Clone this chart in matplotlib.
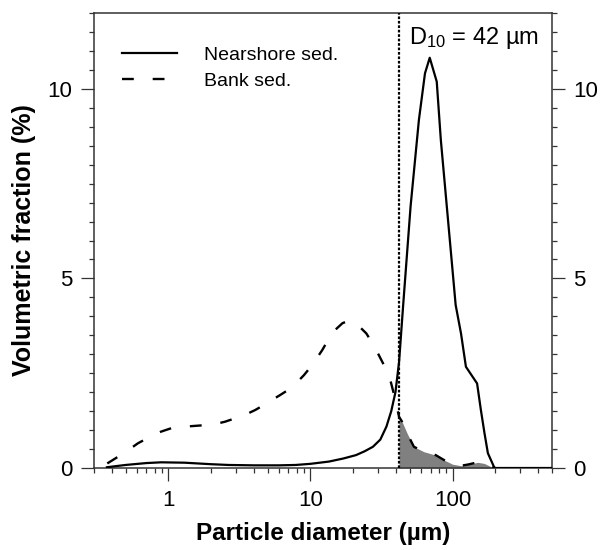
import matplotlib
matplotlib.use("Agg")
import matplotlib.pyplot as plt
import numpy as np

plt.rcParams['font.family'] = ['Liberation Sans', 'DejaVu Sans']
plt.rcParams['mathtext.fontset'] = 'custom'
plt.rcParams['mathtext.rm'] = 'Liberation Sans'
plt.rcParams['mathtext.it'] = 'Liberation Sans:italic'
plt.rcParams['mathtext.bf'] = 'Liberation Sans:bold'

# Nearshore sediment (solid)
near_x = [0.37, 0.5, 0.7, 0.89, 1.3, 2.0, 2.65, 4.0, 6.0, 7.86, 10.0, 13.5, 17.0,
          20.9, 24.0, 27.5, 31.0, 34.2, 37.0, 39.6, 42.0, 44.8, 50.6, 57.9, 63.9,
          69.0, 77.3, 82.6, 105.0, 114.5, 124.0, 148.6, 158.0, 167.5, 177.0, 197.0, 500.0]
near_y = [0.02, 0.08, 0.13, 0.15, 0.14, 0.10, 0.08, 0.07, 0.07, 0.08, 0.11, 0.17, 0.25,
          0.34, 0.44, 0.56, 0.75, 1.09, 1.50, 2.00, 2.80, 4.26, 6.90, 9.18, 10.41,
          10.82, 10.19, 8.65, 4.30, 3.55, 2.67, 2.23, 1.53, 0.92, 0.39, 0.0, 0.0]

# Bank sediment (dashed)
bank_x = [0.372, 0.5, 0.61, 0.75, 0.89, 1.05, 1.3, 1.53, 1.81, 2.2, 2.5, 2.95, 3.5,
          4.09, 4.69, 5.4, 6.15, 7.25, 8.0, 9.0, 10.3, 12.1, 13.5, 15.0, 16.8, 18.8,
          20.4, 22.5, 24.7, 28.2, 32.4, 35.7, 38.5, 40.0, 42.0, 44.1, 47.9, 53.4,
          62.7, 76.0, 87.0, 99.8, 114.5, 127.6, 150.0, 167.0, 187.0, 200.0]
bank_y = [0.12, 0.42, 0.65, 0.83, 0.96, 1.05, 1.09, 1.11, 1.13, 1.17, 1.22, 1.31, 1.41,
          1.53, 1.66, 1.80, 1.93, 2.10, 2.25, 2.45, 2.72, 3.11, 3.42, 3.65, 3.82, 3.89,
          3.83, 3.70, 3.55, 3.20, 2.76, 2.45, 1.97, 1.70, 1.35, 1.22, 0.91, 0.56,
          0.43, 0.34, 0.21, 0.10, 0.06, 0.09, 0.15, 0.12, 0.03, 0.0]

d10 = 42.0
labels = ["Nearshore sed.", "Bank sed."]
x_ticks = [1, 10, 100]
x_ticklabels = ["1", "10", "100"]
y_ticks = [0, 5, 10]

fig = plt.figure(figsize=(6.11, 5.5), dpi=100)
ax = fig.add_axes([94/611, 1-468/550, (552-94)/611, (468-13)/550])

bx = np.array(bank_x); by = np.array(bank_y)
m = bx >= d10
ax.fill_between(bx[m], 0, by[m], color='#808080', lw=0, zorder=1)

ax.plot(near_x, near_y, color='black', lw=1.6, label=labels[0], zorder=3)
ax.plot(bank_x, bank_y, color='black', lw=1.7, linestyle=(0, (5, 8)),
        label=labels[1], zorder=3)
ax.axvline(d10, color='black', lw=1.6, linestyle=(0, (1.2, 0.8)), zorder=4)

ax.set_xscale('log')
ax.set_xlim(0.3, 500)
ax.set_ylim(0, 12)

ax.set_xticks(x_ticks)
ax.set_xticklabels(x_ticklabels)
ax.xaxis.set_minor_locator(matplotlib.ticker.LogLocator(base=10, subs=np.arange(2, 10)))
ax.xaxis.set_minor_formatter(matplotlib.ticker.NullFormatter())
ax.set_yticks(y_ticks)
ax.yaxis.set_minor_locator(matplotlib.ticker.MultipleLocator(0.5))

ax.tick_params(axis='both', which='major', length=9.5, width=0.9, labelsize=16,
               direction='out', color='#333333', pad=6)
ax.tick_params(axis='both', which='minor', length=3.6, width=0.9,
               direction='out', color='#333333')
ax.tick_params(axis='y', which='both', left=True, right=True, labelleft=True, labelright=True)
ax.tick_params(axis='x', which='both', top=False, bottom=True)

for s in ax.spines.values():
    s.set_linewidth(1.1)
    s.set_color('#333333')

ax.set_xlabel("Particle diameter (µm)", fontsize=17.5, fontweight='bold', labelpad=8)
ax.set_ylabel("Volumetric fraction (%)", fontsize=18, fontweight='bold', labelpad=8)

ax.text(49, 11.35, r"D$_{\mathregular{10}}$ = 42 µm", fontsize=17, va='center', ha='left')

leg = ax.legend(loc='upper left', bbox_to_anchor=(0.04, 0.948), frameon=False,
                fontsize=14, handlelength=2.83, handletextpad=1.39, labelspacing=0.44,
                borderpad=0)

fig.savefig("out.png", dpi=100)
